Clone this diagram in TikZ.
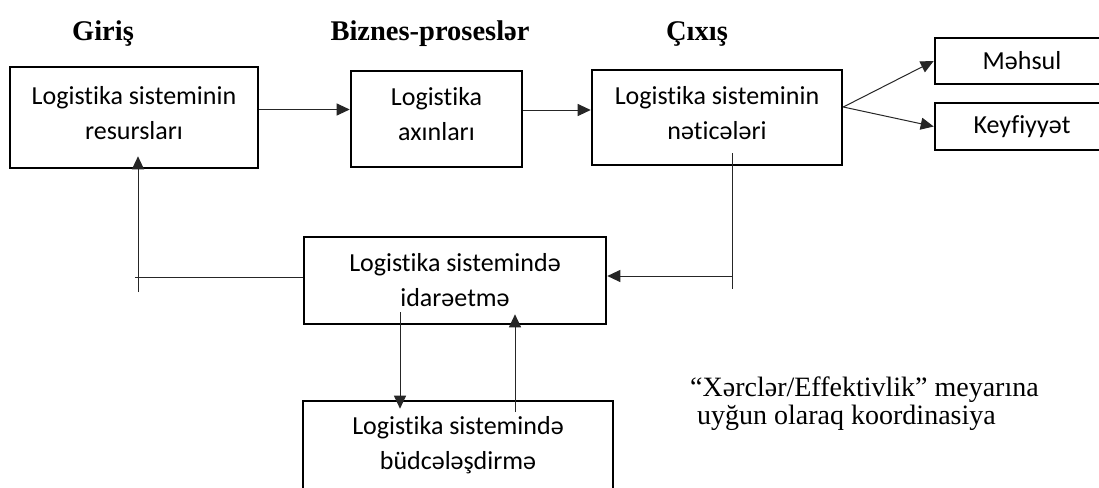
\documentclass[tikz,border=0pt]{standalone}
\usepackage{fontspec}
\setmainfont{Liberation Serif}
\newfontfamily\calib[Ligatures={NoCommon,NoContextual}]{Carlito}
\usetikzlibrary{arrows.meta,calc}
\newcommand{\lowpad}{\rule[-10pt]{0pt}{10pt}}
\begin{document}
\begin{tikzpicture}[x=1pt,y=-1pt,
  box/.style={draw=black,line width=2.6pt,inner sep=0pt,align=center,font=\calib\fontsize{26}{35}\selectfont},
  ttl/.style={font=\bfseries\fontsize{28.5}{32}\selectfont,anchor=base,inner sep=0pt},
  conn/.style={draw=black!85,line width=1pt},
  arr/.style={conn,-{Triangle[length=13pt,width=12pt]}}]
\useasboundingbox[fill=white] (0,0) rectangle (1099,487);
% titles
\node[ttl] (tin) at (103,41) {Giriş};
\node[ttl] (tproc) at (430,41) {Biznes-proseslər};
\node[ttl] (tout) at (697,41) {Çıxış};
% boxes
\node[box,minimum width=248pt,minimum height=101pt] (res) at (134,117.5) {Logistika sisteminin\\resursları\lowpad};
\node[box,minimum width=171pt,minimum height=96pt] (flow) at (436.5,119) {Logistika\\axınları\lowpad};
\node[box,minimum width=250pt,minimum height=95pt] (out) at (717,117.5) {Logistika sisteminin\\nəticələri\lowpad};
\node[box,minimum width=174pt,minimum height=46pt] (prod) at (1022,61) {Məhsul};
\node[box,minimum width=174pt,minimum height=47pt] (qual) at (1022,126.5) {Keyfiyyət};
\node[box,minimum width=302pt,minimum height=87pt] (mgmt) at (455,280.5) {Logistika sistemində\\idarəetmə};
\node[box,minimum width=310pt,minimum height=88pt] (budg) at (458,445) {Logistika sistemində\\büdcələşdirmə};
% note
\node[font=\fontsize{28}{28}\selectfont,align=left,anchor=west,inner sep=0pt] (note) at (690,404)
  {“Xərclər/Effektivlik” meyarına\\\hspace*{0.25em}uyğun olaraq koordinasiya};
% free ends
\coordinate (br) at ([yshift=10.5pt]out.east);
\coordinate (rtop) at (732,153);
\coordinate (rbot) at (732,289);
\coordinate (rmid) at (732,276);
\coordinate (lbot) at (138,292);
\coordinate (lleft) at (135,277);
\coordinate (dstart) at (400,312);
\coordinate (ustart) at (515,412);
% connectors
\draw[arr] ([yshift=8pt]res.east) -- ([yshift=8pt]res.east -| flow.west);
\draw[arr] ([yshift=9pt]flow.east) -- ([yshift=9pt]flow.east -| out.west);
\draw[arr] (br) -- (prod.west);
\draw[arr] (br) -- (qual.west);
\draw[conn] (rtop) -- (rbot);
\draw[arr] (rmid) -- (rmid -| mgmt.east);
\draw[conn] (lleft) -- (lleft -| mgmt.west);
\draw[arr] (lbot) -- ($(lbot |- res.south)+(0,-13)$);
\draw[arr] (dstart) -- ($(dstart |- budg.north)+(0,9)$);
\draw[arr] (ustart) -- ($(ustart |- mgmt.south)+(0,-11)$);
\end{tikzpicture}
\end{document}
